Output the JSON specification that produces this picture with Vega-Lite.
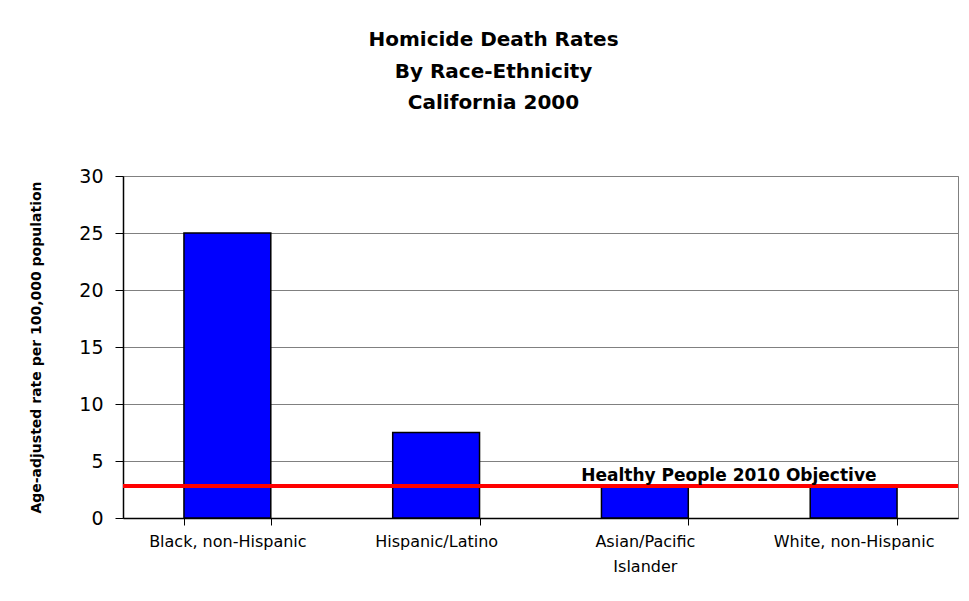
{
  "$schema": "https://vega.github.io/schema/vega-lite/v6.json",
  "width": 835,
  "height": 342,
  "autosize": {"type": "none"},
  "padding": {"left": 123, "top": 176, "right": 11, "bottom": 83},
  "background": "white",
  "title": {
    "text": ["Homicide Death Rates", "By Race-Ethnicity", "California 2000"],
    "font": "DejaVu Sans",
    "fontSize": 20,
    "fontWeight": "bold",
    "lineHeight": 31.5,
    "offset": 54,
    "dx": -47,
    "anchor": "middle",
    "color": "black"
  },
  "datasets": {
    "rates": [
      {"group": "Black, non-Hispanic", "rate": 25.0},
      {"group": "Hispanic/Latino", "rate": 7.5},
      {"group": "Asian/Pacific Islander", "rate": 2.7},
      {"group": "White, non-Hispanic", "rate": 2.7}
    ],
    "objective": [
      {"label": "Healthy People 2010 Objective", "rate": 2.8, "anchor": "Asian/Pacific Islander"}
    ]
  },
  "layer": [
    {
      "data": {"name": "rates"},
      "mark": {"type": "bar", "fill": "#0000FF", "stroke": "black", "strokeWidth": 1.5},
      "encoding": {
        "x": {
          "field": "group",
          "type": "nominal",
          "sort": null,
          "scale": {"paddingInner": 0.584, "paddingOuter": 0.292},
          "axis": {
            "title": null,
            "tickBand": "extent",
            "tickSize": 7,
            "tickColor": "black",
            "domainColor": "black",
            "domainWidth": 1.5,
            "labelFont": "DejaVu Sans",
            "labelFontSize": 16,
            "labelColor": "black",
            "labelAngle": 0,
            "labelPadding": 8,
            "labelLineHeight": 25,
            "labelLimit": 0,
            "labelExpr": "datum.label == 'Asian/Pacific Islander' ? ['Asian/Pacific', 'Islander'] : datum.label"
          }
        },
        "y": {
          "field": "rate",
          "type": "quantitative",
          "scale": {"domain": [0, 30]},
          "axis": {
            "title": "Age-adjusted rate per 100,000 population",
            "titleFont": "DejaVu Sans",
            "titleFontSize": 14,
            "titleFontWeight": "bold",
            "titleColor": "black",
            "titleAngle": -90,
            "titleX": -83,
            "titleY": 171,
            "titleAlign": "center",
            "titleBaseline": "alphabetic",
            "values": [0, 5, 10, 15, 20, 25, 30],
            "labelFont": "DejaVu Sans",
            "labelFontSize": 19,
            "labelColor": "black",
            "labelPadding": 12,
            "tickSize": 8,
            "tickColor": "black",
            "domainColor": "black",
            "domainWidth": 1.5,
            "grid": true,
            "gridColor": "#808080",
            "gridWidth": 1
          }
        }
      }
    },
    {
      "data": {"name": "objective"},
      "mark": {"type": "rule", "color": "#FF0000", "strokeWidth": 4},
      "encoding": {
        "y": {"field": "rate", "type": "quantitative"}
      }
    },
    {
      "data": {"name": "objective"},
      "mark": {
        "type": "text",
        "font": "DejaVu Sans",
        "fontSize": 17,
        "fontWeight": "bold",
        "dx": 84,
        "dy": -5,
        "baseline": "alphabetic",
        "align": "center",
        "color": "black"
      },
      "encoding": {
        "x": {"field": "anchor", "type": "nominal", "sort": null},
        "y": {"field": "rate", "type": "quantitative"},
        "text": {"field": "label"}
      }
    }
  ],
  "config": {
    "view": {"stroke": "#808080"}
  }
}
